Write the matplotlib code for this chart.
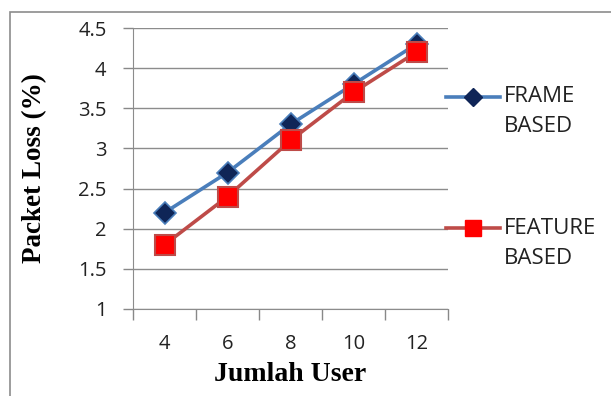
import matplotlib.pyplot as plt
from matplotlib.lines import Line2D
from matplotlib.patches import Rectangle

# data
users = ["4", "6", "8", "10", "12"]
frame_based = [2.2, 2.7, 3.3, 3.8, 4.3]
feature_based = [1.8, 2.4, 3.1, 3.7, 4.2]
y_ticks = [1, 1.5, 2, 2.5, 3, 3.5, 4, 4.5]

fig = plt.figure(figsize=(6.11, 3.96), dpi=100)
ax = fig.add_axes([133 / 611, 1 - 309 / 396, 315 / 611, 281 / 396])

x = list(range(len(users)))
ax.plot(x, frame_based, color="#4A7EBB", lw=2.6, marker="D", ms=11,
        mfc="#0F2557", mec="#4A7EBB", mew=1.2, zorder=3)
ax.plot(x, feature_based, color="#BE4B48", lw=2.6, marker="s", ms=14,
        mfc="#FF0000", mec="#BE4B48", mew=1.5, zorder=4)

ax.set_xlim(-0.5, len(users) - 0.5)
ax.set_ylim(1, 4.5)
ax.set_yticks(y_ticks)
ax.set_yticklabels([f"{v:g}" for v in y_ticks])
ax.set_xticks(x)
ax.set_xticklabels(users)
ax.set_xticks([i - 0.5 for i in range(len(users) + 1)], minor=True)
ax.tick_params(axis="x", which="major", length=0, pad=18)
ax.tick_params(axis="x", which="minor", length=8, color="#888888", width=1)
ax.tick_params(axis="y", length=7, color="#888888", width=1, pad=12)
for lab in ax.get_xticklabels() + ax.get_yticklabels():
    lab.set_fontfamily("Open Sans")
    lab.set_fontsize(14.5)
    lab.set_color("#222222")

ax.grid(axis="y", color="#8C8C8C", lw=1)
ax.set_axisbelow(True)
for s in ["top", "right"]:
    ax.spines[s].set_visible(False)
ax.spines["left"].set_color("#8C8C8C")
ax.spines["bottom"].set_color("#8C8C8C")

ax.set_ylabel("Packet Loss (%)", fontfamily="Liberation Serif",
              fontweight="bold", fontsize=19.5, labelpad=22)
ax.set_xlabel("Jumlah User", fontfamily="Liberation Serif",
              fontweight="bold", fontsize=20, labelpad=6)

# outer border of the chart
fig.add_artist(Rectangle((10 / 611, -0.1), 1.1, 1 - 12 / 396 + 0.1,
                         transform=fig.transFigure, fill=False,
                         ec="#8C8C8C", lw=1.2))

# legend drawn by hand
def leg_entry(yc, color, marker, ms, mfc, words):
    fy = 1 - yc / 396
    fig.add_artist(Line2D([446 / 611, 500 / 611], [fy, fy], color=color, lw=2.6,
                          transform=fig.transFigure))
    fig.add_artist(Line2D([473 / 611], [fy], marker=marker, ms=ms, mfc=mfc,
                          mec=mfc, transform=fig.transFigure))
    for i, w in enumerate(words):
        fig.text(504 / 611, 1 - (yc + 30 * i) / 396, w, fontfamily="Open Sans",
                 fontsize=16, color="#222222", va="center")

leg_entry(97, "#4A7EBB", "D", 9, "#0F2557", ["FRAME", "BASED"])
leg_entry(228, "#BE4B48", "s", 11, "#FF0000", ["FEATURE", "BASED"])

fig.savefig("out.png", dpi=100)
